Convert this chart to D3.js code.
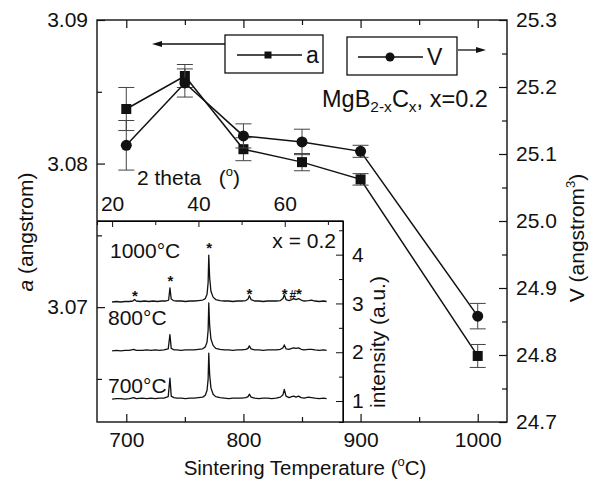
<!DOCTYPE html>
<meta charset="utf-8">
<title>MgB2-xCx: a and V vs sintering temperature</title>
<script src="https://d3js.org/d3.v7.min.js"></script>
<style>
  body { margin: 0; background: #fff; }
  svg text { font-family: "Liberation Sans", Arial, sans-serif; fill: #111; }
</style>
<svg id="chart" width="590" height="483"></svg>
<script>
// --- main panel data ---
var temps = [700, 750, 800, 850, 900, 1000];          // sintering temperature (°C)
var aVals = [3.0838, 3.0861, 3.0810, 3.0801, 3.0789, 3.0666]; // a (angstrom)
var aErr  = [0.0015, 0.0008, 0.0008, 0.0006, 0.0004, 0.0008];
var vVals = [25.113, 25.206, 25.127, 25.118, 25.104, 24.858]; // V (angstrom^3)
var vErr  = [0.037, 0.021, 0.018, 0.019, 0.009, 0.019];

var tTicks = [700, 800, 900, 1000], tMinor = [750, 850, 950];
var aTicks = [3.07, 3.08, 3.09],    aMinor = [3.065, 3.075, 3.085];
var vTicks = [24.7, 24.8, 24.9, 25.0, 25.1, 25.2, 25.3];
var vMinor = [24.75, 24.85, 24.95, 25.05, 25.15, 25.25];

// --- inset: XRD patterns, [2theta, relative intensity] ---
var patternNames = ["1000°C", "800°C", "700°C"];
var patternOffsets = [3.03, 2.03, 1.04];
var xrd1000 = [[20,0.00],[21,0.01],[22,0.00],[23,0.01],[24,0.01],[24.8,0.02],[25.2,0.05],[25.6,0.02],
  [26.5,0.01],[27.5,0.02],[28.5,0.01],[29.5,0.02],[30.5,0.01],[31.5,0.02],[32.5,0.02],[33.1,0.04],
  [33.4,0.29],[33.7,0.06],[34.2,0.03],[35,0.02],[36,0.02],[37,0.01],[38,0.02],[39,0.02],[40,0.03],
  [41,0.04],[41.6,0.07],[42.0,0.16],[42.25,0.40],[42.4,0.96],[42.6,0.50],[42.9,0.22],[43.4,0.10],[44,0.05],
  [45,0.03],[46,0.02],[47,0.02],[48,0.01],[49,0.02],[50,0.02],[51,0.03],[51.5,0.06],[51.8,0.13],
  [52.2,0.05],[53,0.02],[54,0.02],[55,0.01],[56,0.02],[57,0.02],[58,0.02],[59,0.03],[59.6,0.07],
  [59.9,0.15],[60.3,0.05],[61,0.03],[61.6,0.05],[62.1,0.07],[62.6,0.05],[63.2,0.07],[63.8,0.04],
  [64.5,0.02],[65.5,0.03],[66.2,0.04],[67,0.02],[68,0.01],[69,0.02],[69.7,0.01]];
var xrd800 = [[20,0.00],[21,0.01],[22,0.00],[23,0.01],[24,0.01],[25,0.03],[25.6,0.01],[27,0.01],
  [28,0.02],[29,0.01],[30,0.02],[31,0.01],[32,0.02],[33,0.04],[33.4,0.33],[33.7,0.05],[34.3,0.02],
  [35,0.02],[36,0.01],[37,0.02],[38,0.02],[39,0.02],[40,0.03],[41,0.04],[41.6,0.08],[42.0,0.18],[42.25,0.42],
  [42.4,0.98],[42.6,0.52],[42.9,0.24],[43.4,0.11],[44,0.05],[45,0.03],[46,0.02],[47,0.02],[48,0.01],
  [49,0.02],[50,0.02],[51,0.03],[51.5,0.05],[51.8,0.10],[52.2,0.04],[53,0.02],[54,0.02],[55,0.01],
  [56,0.02],[57,0.02],[58,0.02],[59,0.03],[59.6,0.06],[59.9,0.12],[60.3,0.04],[61,0.03],[61.6,0.05],
  [62.1,0.06],[62.6,0.05],[63.2,0.06],[63.8,0.03],[64.5,0.02],[65.5,0.03],[66.2,0.03],[67,0.02],
  [68,0.01],[69,0.02],[69.7,0.01]];
var xrd700 = [[20,0.00],[21,0.01],[22,0.01],[23,0.00],[24,0.01],[25,0.03],[25.6,0.01],[27,0.02],
  [28,0.01],[29,0.02],[30,0.01],[31,0.02],[32,0.02],[33,0.05],[33.4,0.43],[33.7,0.06],[34.3,0.03],
  [35,0.02],[36,0.02],[37,0.01],[38,0.02],[39,0.02],[40,0.03],[41,0.04],[41.6,0.08],[42.0,0.18],[42.25,0.41],
  [42.4,0.94],[42.6,0.50],[42.9,0.23],[43.4,0.10],[44,0.05],[45,0.03],[46,0.02],[47,0.01],[48,0.02],
  [49,0.02],[50,0.02],[51,0.03],[51.5,0.05],[51.8,0.10],[52.2,0.04],[53,0.02],[54,0.01],[55,0.02],
  [56,0.02],[57,0.01],[58,0.02],[59,0.04],[59.6,0.09],[59.9,0.20],[60.3,0.06],[61,0.03],[61.6,0.05],
  [62.1,0.06],[62.6,0.04],[63.2,0.06],[63.8,0.03],[64.5,0.02],[65.5,0.04],[66.2,0.03],[67,0.02],
  [68,0.01],[69,0.02],[69.7,0.01]];
var patterns = [xrd1000, xrd800, xrd700];

// peak markers on the 1000°C pattern: [symbol, 2theta, intensity level]
var peakMarks = [["*",25.3,3.21],["*",33.5,3.52],["*",42.5,4.20],["*",51.8,3.25],
                 ["*",60.0,3.25],["#",61.9,3.25],["*",63.3,3.25]];

var thetaTicks = [20, 40, 60], thetaMinor = [30, 50, 70];
var intTicks = [1, 2, 3, 4],   intMinor = [1.5, 2.5, 3.5, 4.5];

// --- layout ---
var L = 97, R = 507, T = 20, B = 422;
var inR = 343, inT = 221;

var svg = d3.select("#chart");
svg.append("rect").attr("width", 590).attr("height", 483).attr("fill", "#fff");

var x  = d3.scaleLinear().domain([675, 1025]).range([L, R]);
var yA = d3.scaleLinear().domain([3.062, 3.09]).range([B, T]);
var yV = d3.scaleLinear().domain([24.7, 25.3]).range([B, T]);

var x2 = d3.scaleLinear().domain([16.5, 73.5]).range([L, inR]);
var yI = d3.scaleLinear().domain([0.57, 4.69]).range([B, inT]);

var ink = "#111";

// --- data lines, error bars, markers ---
function series(vals, errs, yScale, shape) {
  var pts = temps.map(function(t, i) { return [x(t), yScale(vals[i])]; });
  svg.append("path").attr("d", d3.line()(pts))
    .attr("fill", "none").attr("stroke", ink).attr("stroke-width", 1.5);

  var eb = svg.append("g").attr("stroke", "#444").attr("stroke-width", 1);
  temps.forEach(function(t, i) {
    var cx = x(t), y0 = yScale(vals[i] - errs[i]), y1 = yScale(vals[i] + errs[i]);
    eb.append("line").attr("x1", cx).attr("x2", cx).attr("y1", y0).attr("y2", y1);
    eb.append("line").attr("x1", cx - 8).attr("x2", cx + 8).attr("y1", y0).attr("y2", y0);
    eb.append("line").attr("x1", cx - 8).attr("x2", cx + 8).attr("y1", y1).attr("y2", y1);
  });

  pts.forEach(function(p) {
    if (shape == "square") {
      svg.append("rect").attr("x", p[0] - 5).attr("y", p[1] - 5)
        .attr("width", 10).attr("height", 10).attr("fill", ink);
    } else {
      svg.append("circle").attr("cx", p[0]).attr("cy", p[1]).attr("r", 5.5).attr("fill", ink);
    }
  });
}
series(aVals, aErr, yA, "square");
series(vVals, vErr, yV, "circle");

// --- legend boxes and arrows ---
var leg = svg.append("g");
leg.append("rect").attr("x", 225).attr("y", 35).attr("width", 98).attr("height", 38)
  .attr("fill", "#fff").attr("stroke", ink).attr("stroke-width", 1.3);
leg.append("line").attr("x1", 237).attr("x2", 302).attr("y1", 55).attr("y2", 55)
  .attr("stroke", ink).attr("stroke-width", 1.3);
leg.append("rect").attr("x", 264.5).attr("y", 51.5).attr("width", 7).attr("height", 7).attr("fill", ink);
leg.append("text").attr("x", 306).attr("y", 63).attr("font-size", 23).text("a");

leg.append("rect").attr("x", 347).attr("y", 37).attr("width", 110).attr("height", 38)
  .attr("fill", "#fff").attr("stroke", ink).attr("stroke-width", 1.3);
leg.append("line").attr("x1", 358).attr("x2", 423).attr("y1", 57).attr("y2", 57)
  .attr("stroke", ink).attr("stroke-width", 1.3);
leg.append("circle").attr("cx", 390).attr("cy", 57).attr("r", 4.5).attr("fill", ink);
leg.append("text").attr("x", 427).attr("y", 65).attr("font-size", 23).text("V");

// arrows pointing to the axis each series uses
leg.append("line").attr("x1", 225).attr("x2", 160).attr("y1", 44).attr("y2", 44)
  .attr("stroke", ink).attr("stroke-width", 1.3);
leg.append("path").attr("d", "M152,44 L162,41 L162,47 Z").attr("fill", ink);
leg.append("line").attr("x1", 458).attr("x2", 478).attr("y1", 50).attr("y2", 50)
  .attr("stroke", ink).attr("stroke-width", 1.3);
leg.append("path").attr("d", "M486,50 L476,47 L476,53 Z").attr("fill", ink);

// compound label
var mg = svg.append("text").attr("x", 322).attr("y", 107).attr("font-size", 23.5);
mg.append("tspan").text("MgB");
mg.append("tspan").attr("font-size", 15.5).attr("dy", 5).text("2-x");
mg.append("tspan").attr("dy", -5).text("C");
mg.append("tspan").attr("font-size", 15.5).attr("dy", 5).text("x");
mg.append("tspan").attr("dy", -5).text(", x=0.2");

// --- inset ---
var inset = svg.append("g");
inset.append("rect").attr("x", L).attr("y", inT).attr("width", inR - L).attr("height", B - inT)
  .attr("fill", "#fff");

var line2 = d3.line().x(function(d) { return x2(d[0]); });
patterns.forEach(function(p, k) {
  inset.append("path")
    .attr("d", line2.y(function(d) { return yI(d[1] + patternOffsets[k]); })(p))
    .attr("fill", "none").attr("stroke", ink).attr("stroke-width", 1.3)
    .attr("stroke-linejoin", "round");
});

inset.selectAll(".mark").data(peakMarks).enter().append("text")
  .attr("class", "mark")
  .attr("x", function(d) { return x2(d[1]); })
  .attr("y", function(d) { return yI(d[2]) + 8; })
  .attr("text-anchor", "middle")
  .attr("font-size", function(d) { return d[0] == "#" ? 12 : 15; })
  .attr("font-weight", "bold")
  .text(function(d) { return d[0]; });

var labelY = [258, 325, 393];
patternNames.forEach(function(n, k) {
  inset.append("text").attr("x", k == 0 ? 110 : 108).attr("y", labelY[k])
    .attr("font-size", 21).text(n);
});
inset.append("text").attr("x", 336).attr("y", 248).attr("text-anchor", "end")
  .attr("font-size", 21).text("x = 0.2");

inset.append("path")
  .attr("d", "M" + L + "," + inT + "H" + inR + "V" + B)
  .attr("fill", "none").attr("stroke", ink).attr("stroke-width", 1.4);

// inset top axis (2 theta), ticks pointing into inset
var gTh = inset.append("g").attr("transform", "translate(0," + inT + ")");
gTh.call(d3.axisTop(x2).tickValues(thetaTicks).tickSize(-6).tickPadding(10));
gTh.append("g").call(d3.axisTop(x2).tickValues(thetaMinor).tickSize(-4).tickFormat(""));
inset.append("text").attr("x", 137).attr("y", 185).attr("font-size", 21)
  .html('2 theta\u00a0\u00a0\u00a0(<tspan font-size="13" dy="-9">o</tspan><tspan dy="9">)</tspan>');

// inset right axis (intensity)
var gI = inset.append("g").attr("transform", "translate(" + inR + ",0)");
gI.call(d3.axisRight(yI).tickValues(intTicks).tickSize(-7).tickPadding(9).tickFormat(d3.format("d")));
gI.append("g").call(d3.axisRight(yI).tickValues(intMinor).tickSize(-4).tickFormat(""));
inset.append("text").attr("transform", "translate(385,342) rotate(-90)")
  .attr("text-anchor", "middle").attr("font-size", 21).text("intensity (a.u.)");

// --- main frame and axes (ticks inward) ---
svg.append("rect").attr("x", L).attr("y", T).attr("width", R - L).attr("height", B - T)
  .attr("fill", "none").attr("stroke", ink).attr("stroke-width", 1.4);

function addAxis(axis, tx, ty) {
  var g = svg.append("g").attr("transform", "translate(" + tx + "," + ty + ")").call(axis);
  g.select(".domain").remove();
  g.selectAll("text").attr("font-size", 21).attr("fill", ink);
  g.selectAll("line").attr("stroke", ink).attr("stroke-width", 1.2);
  return g;
}
addAxis(d3.axisBottom(x).tickValues(tTicks).tickSize(-8).tickPadding(10).tickFormat(d3.format("d")), 0, B);
addAxis(d3.axisBottom(x).tickValues(tMinor).tickSize(-5).tickFormat(""), 0, B);
addAxis(d3.axisTop(x).tickValues(tTicks).tickSize(-8).tickFormat(""), 0, T);
addAxis(d3.axisTop(x).tickValues(tMinor).tickSize(-5).tickFormat(""), 0, T);
addAxis(d3.axisLeft(yA).tickValues(aTicks).tickSize(-8).tickPadding(9).tickFormat(d3.format(".2f")), L, 0);
addAxis(d3.axisLeft(yA).tickValues(aMinor).tickSize(-5).tickFormat(""), L, 0);
addAxis(d3.axisRight(yV).tickValues(vTicks).tickSize(-8).tickPadding(9).tickFormat(d3.format(".1f")), R, 0);
addAxis(d3.axisRight(yV).tickValues(vMinor).tickSize(-5).tickFormat(""), R, 0);

gTh.select(".domain").remove();
gTh.selectAll("text").attr("font-size", 21).attr("fill", ink);
gTh.selectAll("line").attr("stroke", ink);
gI.select(".domain").remove();
gI.selectAll("text").attr("font-size", 21).attr("fill", ink);
gI.selectAll("line").attr("stroke", ink);

// axis titles
svg.append("text").attr("x", 305).attr("y", 475).attr("text-anchor", "middle").attr("font-size", 20.5)
  .html('Sintering Temperature (<tspan font-size="13" dy="-9">o</tspan><tspan dy="9">C)</tspan>');
svg.append("text").attr("transform", "translate(33,232) rotate(-90)").attr("text-anchor", "middle")
  .attr("font-size", 21)
  .html('<tspan font-style="italic">a</tspan> (angstrom)');
svg.append("text").attr("transform", "translate(584,238) rotate(-90)").attr("text-anchor", "middle")
  .attr("font-size", 21)
  .html('V (angstrom<tspan font-size="13" dy="-9">3</tspan><tspan dy="9">)</tspan>');
</script>
